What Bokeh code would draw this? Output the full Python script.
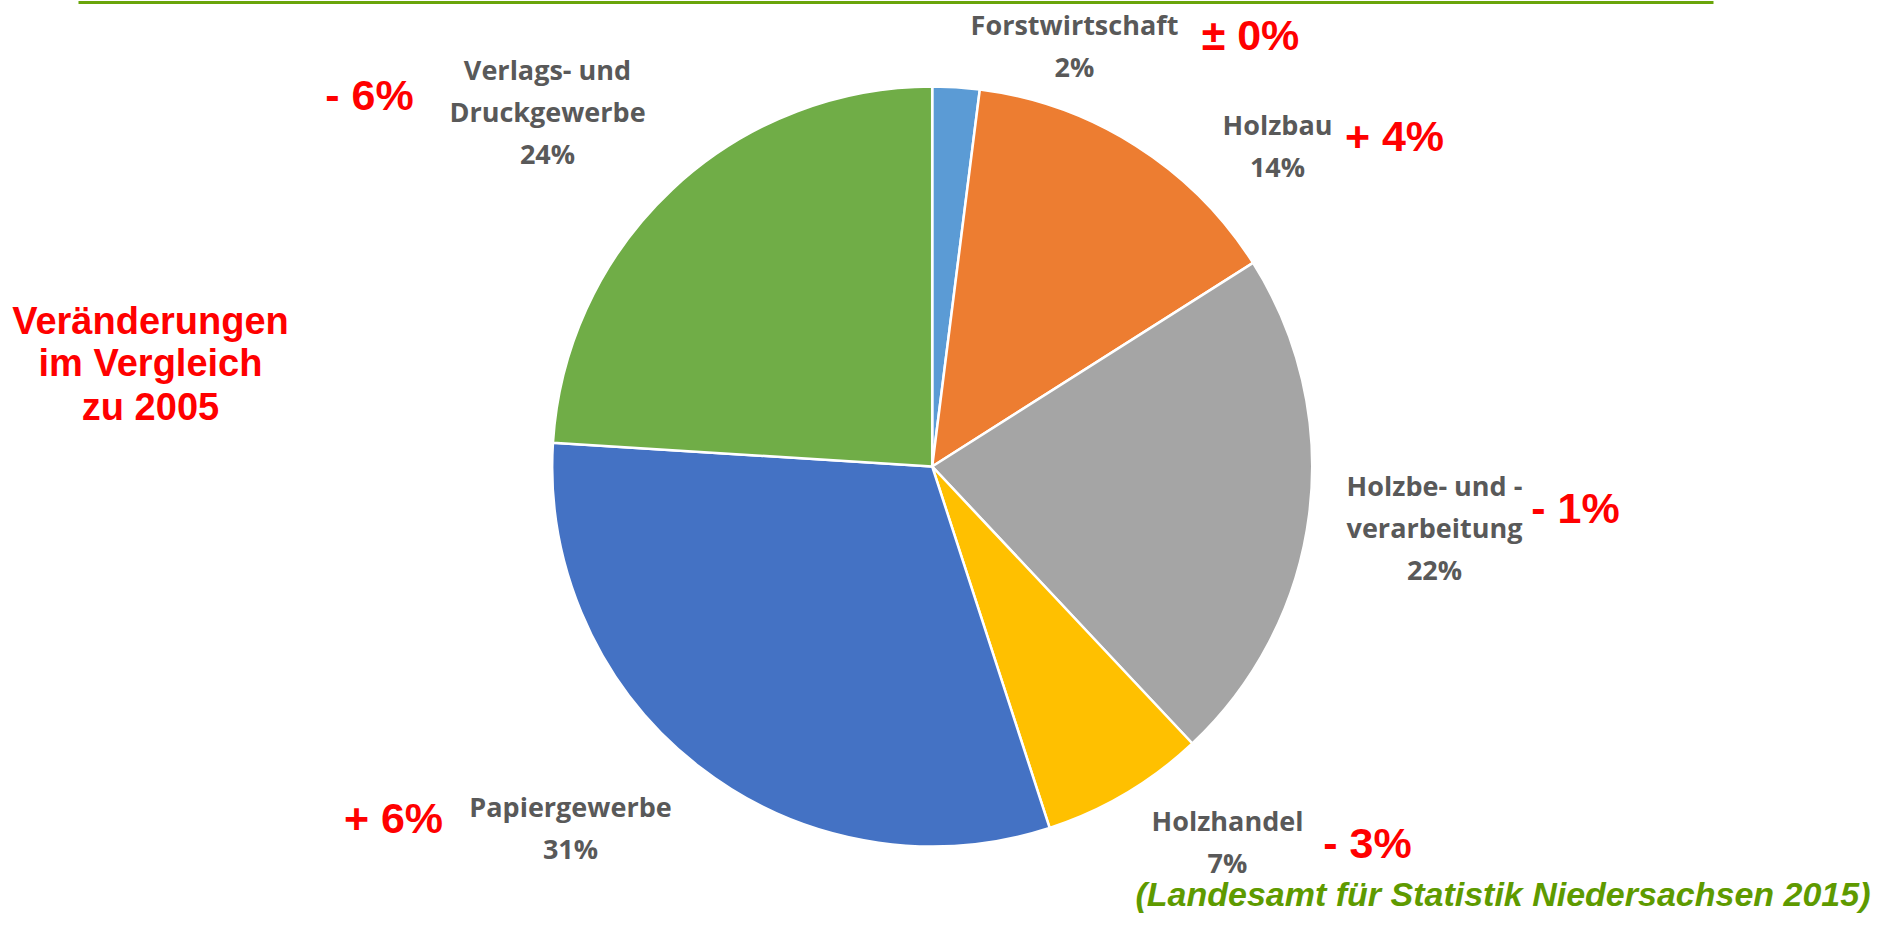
import math
from bokeh.plotting import figure
from bokeh.models import Range1d, ColumnDataSource
from bokeh.core.properties import value
from bokeh.embed import file_html
from bokeh.resources import INLINE

# ---- data ----
categories = ["Forstwirtschaft", "Holzbau", "Holzbe- und -\nverarbeitung", "Holzhandel",
              "Papiergewerbe", "Verlags- und\nDruckgewerbe"]
shares = [2, 14, 22, 7, 31, 24]
changes = ["± 0%", "+ 4%", "- 1%", "- 3%", "+ 6%", "- 6%"]
colors = ["#5B9BD5", "#ED7D31", "#A5A5A5", "#FFC000", "#4472C4", "#70AD47"]
side_title = ["Veränderungen", "im Vergleich", "zu 2005"]
source_note = "(Landesamt für Statistik Niedersachsen 2015)"

# ---- layout (screen coordinates) ----
W, H = 1876, 916
def sx(x): return x
def sy(y): return H - y

CX, CY, R = 931.7, 466, 380
label_pos = [(1074, 24), (1277, 124), (1434, 485), (1227, 820), (570, 806), (547, 69)]
change_pos = [(1250, 34), (1394, 135), (1575, 507), (1367, 842), (393, 817), (369, 94)]
LINE = 42

p = figure(width=W, height=H, output_backend="svg", toolbar_location=None,
           x_range=Range1d(0, W), y_range=Range1d(0, H), min_border=0)
p.axis.visible = False
p.grid.visible = False
p.outline_line_color = None
p.background_fill_color = "white"

# wedges
total = sum(shares)
starts, ends = [], []
cum = 0
for s in shares:
    starts.append(math.pi / 2 - 2 * math.pi * cum / total)
    cum += s
    ends.append(math.pi / 2 - 2 * math.pi * cum / total)
src = ColumnDataSource(dict(x=[sx(CX)] * len(shares), y=[sy(CY)] * len(shares),
                            start=starts, end=ends, color=colors))
p.wedge(x="x", y="y", radius=R, radius_units="screen", start_angle="start", end_angle="end",
        direction="clock", fill_color="color", line_color="white", line_width=2.5, source=src)

# top green rule
p.segment(x0=[sx(78)], y0=[sy(2)], x1=[sx(1713)], y1=[sy(2)], line_color="#6AA50A", line_width=3)

# category labels
lx, ly, lt = [], [], []
for cat, sh, (ax, ay) in zip(categories, shares, label_pos):
    lines = cat.split("\n") + [f"{sh}%"]
    for i, ln in enumerate(lines):
        lx.append(sx(ax)); ly.append(sy(ay + i * LINE)); lt.append(ln)
p.text(x=lx, y=ly, text=lt, text_align="center", text_baseline="middle",
       text_font=value("Open Sans"), text_font_style="bold", text_font_size="27px", text_color="#595959")

# change labels
p.text(x=[sx(c[0]) for c in change_pos], y=[sy(c[1]) for c in change_pos], text=changes,
       text_align="center", text_baseline="middle", text_font=value("Liberation Sans"),
       text_font_style="bold", text_font_size="43px", text_color="#FF0000")

# side title
p.text(x=[sx(150)] * 3, y=[sy(320), sy(362), sy(406)], text=side_title,
       text_align="center", text_baseline="middle", text_font=value("Liberation Sans"),
       text_font_style="bold", text_font_size="38px", text_color="#FF0000")

# source
p.text(x=[sx(1870)], y=[sy(893)], text=[source_note], text_align="right", text_baseline="alphabetic",
       text_font=value("Liberation Sans"), text_font_style="bold italic", text_font_size="34px",
       text_color="#5E9A00")

open("out.html", "w").write(file_html(p, INLINE))
